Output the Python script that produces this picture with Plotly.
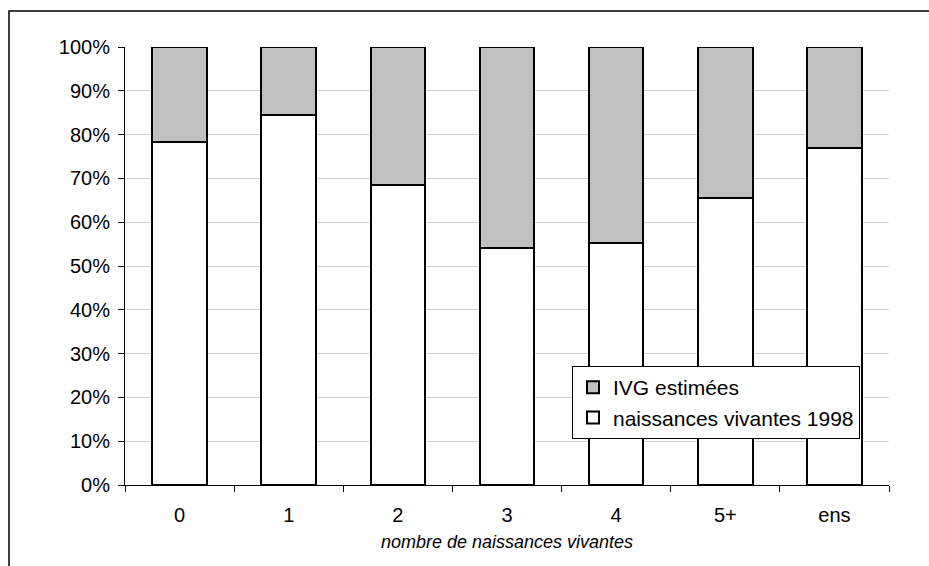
import plotly.graph_objects as go

categories = ["0", "1", "2", "3", "4", "5+", "ens"]
naissances = [78.2, 84.5, 68.5, 54.0, 55.3, 65.5, 76.9]
ivg = [round(100 - v, 1) for v in naissances]
yticks = list(range(0, 101, 10))

fig = go.Figure()
fig.add_trace(go.Bar(x=categories, y=naissances, name="naissances vivantes 1998",
                     marker=dict(color="white", line=dict(color="black", width=2))))
fig.add_trace(go.Bar(x=categories, y=ivg, name="IVG estimées",
                     marker=dict(color="#c0c0c0", line=dict(color="black", width=2))))

fig.update_layout(
    barmode="stack", bargap=0.5,
    width=929, height=566,
    margin=dict(l=125, r=40, t=47, b=81),
    paper_bgcolor="white", plot_bgcolor="white",
    font=dict(family="Liberation Sans, Arial", size=20, color="black"),
    legend=dict(x=(572 - 125) / 764, y=(485 - 366) / 438, xanchor="left", yanchor="top",
                traceorder="reversed", bordercolor="black", borderwidth=1,
                bgcolor="white", font=dict(size=21), itemwidth=30, tracegroupgap=0),
    xaxis=dict(type="category", showline=True, linecolor="black", linewidth=1,
               ticks="outside", tickson="boundaries", ticklen=6, tickcolor="black",
               showgrid=False, ticklabelstandoff=12,
               title=dict(text="<i>nombre de naissances vivantes</i>", font=dict(size=18), standoff=10)),
    yaxis=dict(range=[0, 100], tickvals=yticks, ticktext=[f"{v}%" for v in yticks],
               showline=True, linecolor="black", linewidth=1, ticks="outside",
               ticklen=6, tickcolor="black", gridcolor="#d0d0d0", gridwidth=1,
               zeroline=False, ticklabelstandoff=4),
    shapes=[dict(type="rect", xref="paper", yref="paper",
                 x0=(9 - 125) / 764, x1=2, y0=-2, y1=(485 - 11) / 438,
                 line=dict(color="black", width=1.5), layer="below")],
)

fig.write_html("out.html")
